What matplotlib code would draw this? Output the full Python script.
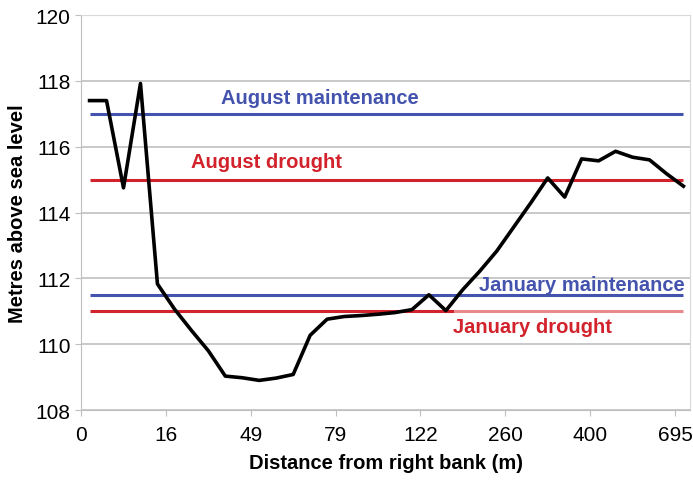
import matplotlib
matplotlib.use("Agg")
import matplotlib.pyplot as plt
import numpy as np

# cross-section elevations (m above sea level), one reading per survey point
elevation = [117.40, 117.40, 114.75, 117.92, 111.83, 111.07, 110.42, 109.80,
             109.03, 108.98, 108.90, 108.97, 109.08, 110.27, 110.76, 110.84,
             110.87, 110.91, 110.96, 111.05, 111.50, 111.02, 111.66, 112.22,
             112.83, 113.56, 114.29, 115.05, 114.47, 115.63, 115.57, 115.86,
             115.68, 115.60, 115.18, 114.80]

# distance labels shown every 5th point
tick_labels = ["0", "16", "49", "79", "122", "260", "400", "695"]

# water levels
aug_maintenance = 117.0
aug_drought = 115.0
jan_maintenance = 111.5
jan_drought = 111.0

blue = "#4453ad"
red = "#d2222b"

plt.rcParams["font.family"] = ["Liberation Sans", "DejaVu Sans"]

fig = plt.figure(figsize=(6.93, 4.81), dpi=100)
ax = fig.add_axes([0.117, 0.1455, 0.879, 0.8212])

x = np.arange(len(elevation))
first, last = x[0], x[-1]

ax.hlines(aug_maintenance, first, last, color=blue, lw=2.2, zorder=2)
ax.hlines(aug_drought, first, last, color=red, lw=2.2, zorder=2)
ax.hlines(jan_maintenance, first, last, color=blue, lw=2.2, zorder=2)
ax.hlines(jan_drought, first, 21.5, color=red, lw=2.2, zorder=2)
ax.hlines(jan_drought, 21.5, last, color="#e88a8e", lw=2.2, zorder=2)

ax.plot(x, elevation, color="black", lw=2.6, zorder=3)

bold = dict(fontsize=14.5, fontweight="bold")
ax.text(13.6, 117.5, "August maintenance", color=blue, ha="center", va="center", **bold)
ax.text(10.4, 115.55, "August drought", color=red, ha="center", va="center", **bold)
ax.text(29.0, 111.8, "January maintenance", color=blue, ha="center", va="center", **bold)
ax.text(26.1, 110.55, "January drought", color=red, ha="center", va="center", **bold)

ax.set_ylim(108, 120)
ax.set_yticks(np.arange(108, 121, 2))
ax.set_xlim(-0.5, 35.4)
ax.set_xticks(np.arange(-0.5, 35, 5))
ax.set_xticklabels(tick_labels)

ax.grid(axis="y", color="#c0c0c0", lw=1.2)
ax.set_axisbelow(True)
for side in ["top", "right"]:
    ax.spines[side].set_color("#d9d9d9")
for side in ["left", "bottom"]:
    ax.spines[side].set_color("#bfbfbf")
ax.tick_params(axis="both", labelsize=15, color="#bfbfbf", length=4)
ax.tick_params(axis="x", pad=7)

ax.set_xlabel("Distance from right bank (m)", fontsize=14.5, fontweight="bold", labelpad=6)
ax.set_ylabel("Metres above sea level", fontsize=14.5, fontweight="bold", labelpad=6)

fig.savefig("out.png", dpi=100)
